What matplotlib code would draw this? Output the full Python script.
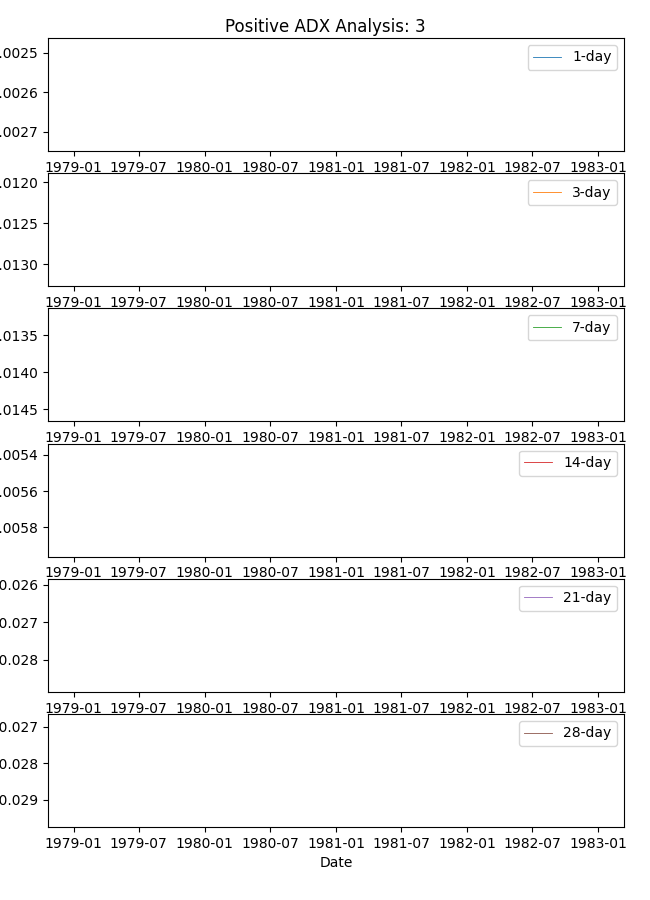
import matplotlib
matplotlib.use("Agg")
import matplotlib.pyplot as plt
import numpy as np
import pandas as pd

title = "Positive ADX Analysis: 3"
labels = ["1-day", "3-day", "7-day", "14-day", "21-day", "28-day"]
# each series has a single finite observation (no visible line segment)
obs_dates = ["1979-01-02", "1979-01-02", "1979-01-02", "1979-01-02", "1979-01-02", "1979-01-02"]
values = [-0.002606, -0.01258, -0.0139, -0.00565, -0.02735, -0.0282]
start_date = "1979-01-02"
end_date = "1982-12-31"
colors = ["C0", "C1", "C2", "C3", "C4", "C5"]

fig, axes = plt.subplots(6, 1, figsize=(6.5, 9), dpi=100)
fig.subplots_adjust(left=48/650, right=624/650, top=1-38/900, bottom=1-827/900, hspace=0.196)

start = pd.Timestamp(start_date)
end = pd.Timestamp(end_date)
span = end - start
for ax, lab, d, v, c in zip(axes, labels, obs_dates, values, colors):
    ax.plot([pd.Timestamp(d)], [v], color=c, linewidth=0.6, label=lab)
    ax.set_xlim(start - span * 0.05, end + span * 0.05)
    ax.legend(loc="upper right")

axes[-1].set_xlabel("Date")
fig.suptitle(title)
fig.savefig("out.png", dpi=100)
